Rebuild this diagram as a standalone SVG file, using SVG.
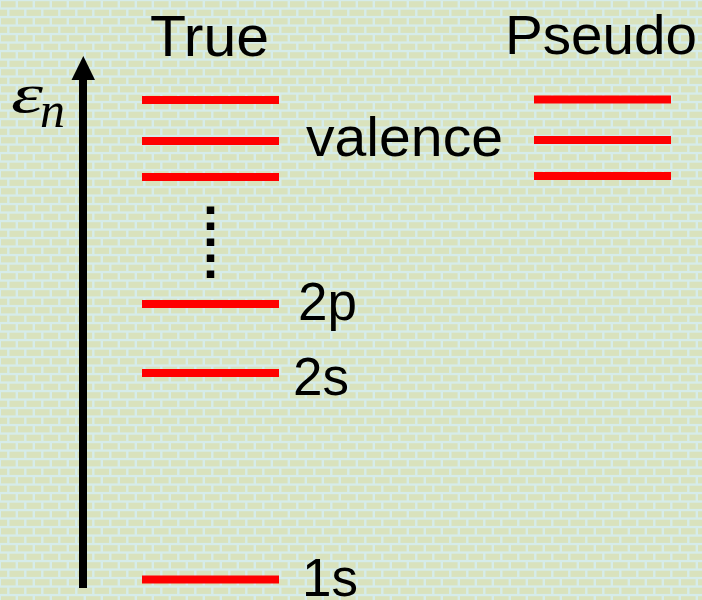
<svg xmlns="http://www.w3.org/2000/svg" width="702" height="600" viewBox="0 0 702 600">
<defs>
<pattern id="brick" x="0" y="0" width="17" height="17" patternUnits="userSpaceOnUse">
<rect width="17" height="17" fill="#d6ecea"/>
<rect x="1" y="1.2" width="14.6" height="6.2" fill="#d9e2bd"/>
<rect x="-7.5" y="9.7" width="14.6" height="6.2" fill="#d9e2bd"/>
<rect x="9.5" y="9.7" width="14.6" height="6.2" fill="#d9e2bd"/>
</pattern>
<style>
.lv{stroke:#ff0000;stroke-width:8;fill:none}
.t{font-family:"Liberation Sans",Arial,sans-serif;fill:#000}
</style>
</defs>
<rect width="702" height="600" fill="url(#brick)"/>
<g id="axis">
<line x1="83" y1="588" x2="83" y2="79" stroke="#000" stroke-width="8"/>
<path d="M71.5,80 L83.3,56 L95,80 Z" fill="#000"/>
<text x="11" y="112" font-family="'Liberation Serif','DejaVu Serif',serif" font-style="italic" font-size="54" textLength="32" lengthAdjust="spacingAndGlyphs">ε</text>
<text x="40" y="127" font-family="'Liberation Serif','DejaVu Serif',serif" font-style="italic" font-size="50">n</text>
</g>
<g id="true-label"><text class="t" x="150" y="56" font-size="58" textLength="119" lengthAdjust="spacingAndGlyphs">True</text></g>
<g id="pseudo-label"><text class="t" x="505" y="54" font-size="56" textLength="192" lengthAdjust="spacingAndGlyphs">Pseudo</text></g>
<g id="true-valence">
<line class="lv" x1="142" y1="100" x2="279" y2="100"/>
<line class="lv" x1="142" y1="141" x2="279" y2="141"/>
<line class="lv" x1="142" y1="177" x2="279" y2="177"/>
</g>
<g id="valence-label"><text class="t" x="306" y="156" font-size="56" textLength="197" lengthAdjust="spacingAndGlyphs">valence</text></g>
<g id="pseudo-valence">
<line class="lv" x1="534" y1="99.5" x2="671" y2="99.5"/>
<line class="lv" x1="534" y1="140" x2="671" y2="140"/>
<line class="lv" x1="534" y1="176" x2="671" y2="176"/>
</g>
<g id="dots"><line x1="210.5" y1="206.5" x2="210.5" y2="278" stroke="#000" stroke-width="7.5" stroke-dasharray="7.5 8.5"/></g>
<g id="level-2p"><line class="lv" x1="142" y1="304" x2="279" y2="304"/><text class="t" x="298" y="320" font-size="53">2p</text></g>
<g id="level-2s"><line class="lv" x1="142" y1="373" x2="279" y2="373"/><text class="t" x="293" y="395" font-size="53">2s</text></g>
<g id="level-1s"><line class="lv" x1="142" y1="579.5" x2="279" y2="579.5"/><text class="t" x="302" y="596" font-size="53">1s</text></g>
</svg>
